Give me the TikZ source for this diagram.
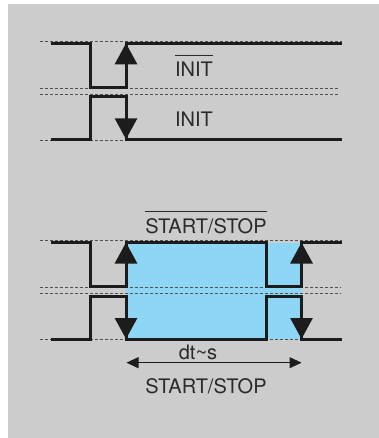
\documentclass[tikz,border=0pt]{standalone}
\usepackage{fontspec}
\setmainfont{TeX Gyre Heros}
\usetikzlibrary{arrows.meta,positioning}
\definecolor{panelgray}{HTML}{CCCCCC}
\definecolor{pulseblue}{HTML}{8DD6F6}
\definecolor{ink}{HTML}{1C1C1C}
\definecolor{txtgray}{HTML}{2A2A2A}
\definecolor{guidegray}{HTML}{505050}

\begin{document}
\begin{tikzpicture}[x=1pt,y=-1pt,
  sig/.style={line width=3pt,draw=ink,line join=miter},
  edge/.style={sig,-{Triangle[length=21pt,width=22pt]}},
  guide/.style={line width=0.9pt,draw=guidegray,dash pattern=on 3pt off 2pt},
  dim/.style={line width=1pt,draw=ink,{Triangle[length=12pt,width=11pt]}-{Triangle[length=12pt,width=11pt]}},
  txt/.style={font=\fontsize{20}{24}\selectfont,text=txtgray,inner sep=0pt,anchor=base},
  bar/.style={line width=0.8pt,draw=txtgray}]
\useasboundingbox (0,0) rectangle (379,438);
\fill[white] (0,0) rectangle (379,438);
\fill[panelgray] (8,4) rectangle (379,438);
% pulse area between the two edges
\fill[pulseblue] (126,242.5) rectangle (301.5,339);
% dotted reference levels
\foreach \y/\xe in {41/342,88.7/338,94.3/338,140.3/342,240.7/342,287.7/341,293.3/341,339.6/342}
  \draw[guide] (40,\y) -- (\xe,\y);
% INIT, inverted and direct
\draw[sig] (51,43.3) -- (90.5,43.3) -- (90.5,87.3) -- (126,87.3) -- (126,43.3) -- (342,43.3);
\draw[edge] (126,87.3) -- (126,43.3);
\draw[sig] (51,139.3) -- (90.5,139.3) -- (90.5,96.3) -- (126,96.3) -- (126,139.3) -- (342,139.3);
\draw[edge] (126,96.3) -- (126,139.3);
% START/STOP, inverted and direct
\draw[sig] (51,242.5) -- (90.5,242.5) -- (90.5,286.5) -- (126,286.5) -- (126,242.5) -- (266.5,242.5)
  -- (266.5,286.5) -- (301.5,286.5) -- (301.5,242.5) -- (342,242.5);
\draw[sig] (51,339) -- (90.5,339) -- (90.5,296.5) -- (126,296.5) -- (126,339) -- (266.5,339)
  -- (266.5,296.5) -- (301.5,296.5) -- (301.5,339) -- (342,339);
\foreach \x in {126,301.5} {
  \draw[edge] (\x,286.5) -- (\x,242.5);
  \draw[edge] (\x,296.5) -- (\x,339);
}
% labels
\node[txt] (initbar) at (194,77) {INIT};
\draw[bar] ([yshift=7pt]initbar.north west) -- ([yshift=7pt]initbar.north east);
\node[txt] (init) at (194,127) {INIT};
\node[txt] (ssbar) at (206,233.3) {START/STOP};
\draw[bar] ([yshift=7pt]ssbar.north west) -- ([yshift=7pt]ssbar.north east);
% pulse width
\coordinate (dtl) at (126.5,362.7);
\coordinate (dtr) at (301.5,362.7);
\draw[dim] (dtl) -- (dtr);
\node[txt] (dt) at (198,359.3) {dt\textasciitilde s};
\node[txt] (ss) at (206,393.3) {START/STOP};
\end{tikzpicture}
\end{document}
